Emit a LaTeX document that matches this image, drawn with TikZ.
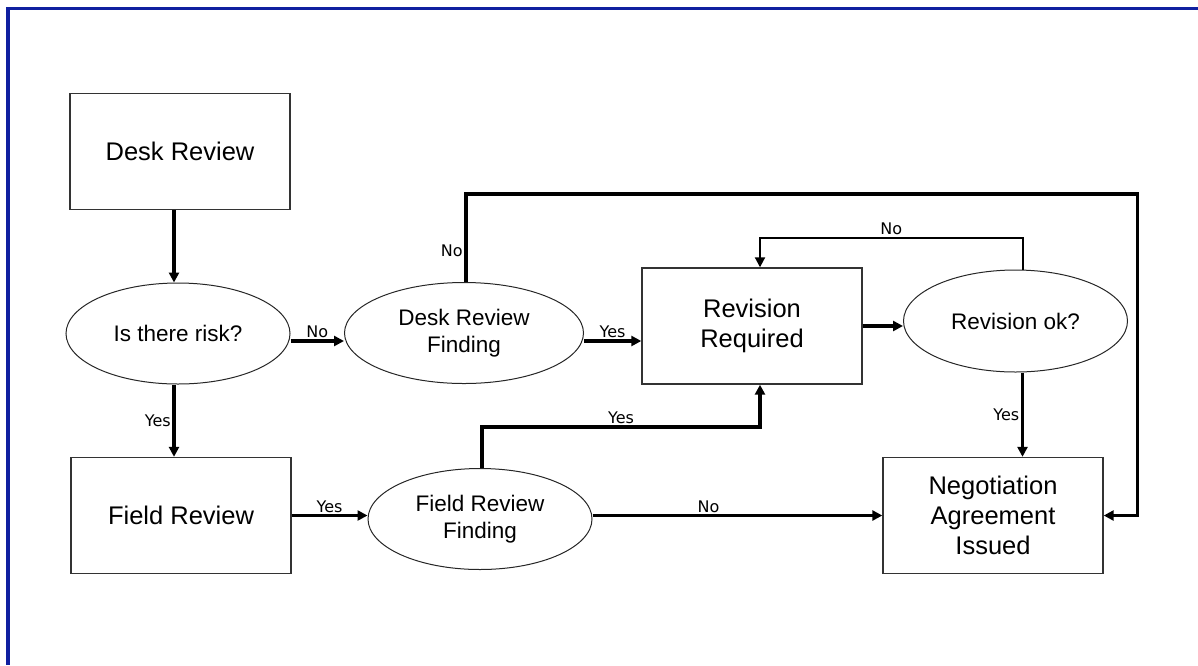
\documentclass[tikz,border=0pt]{standalone}
\usepackage{fontspec}
\setmainfont{Liberation Sans}
\newfontfamily\lblfont{DejaVu Sans}
\usetikzlibrary{shapes.geometric,arrows.meta}
\definecolor{frameblue}{RGB}{16,32,160}
\begin{document}
\begin{tikzpicture}[x=1pt,y=-1pt,
    box/.style={draw=black!80,line width=1.4pt,minimum width=220pt,minimum height=116pt,inner sep=0pt,align=center,font=\fontsize{25.5}{30}\selectfont},
    oval/.style={ellipse,draw=black!85,line width=1pt,minimum width=224pt,minimum height=101pt,inner sep=0pt,align=center,font=\fontsize{22.5}{27}\selectfont},
    flow/.style={line width=3.5pt,-{Triangle[length=10pt,width=10pt]}},
    back/.style={line width=2pt,-{Triangle[length=10pt,width=10pt]}},
    lbl/.style={font=\lblfont\fontsize{16}{18}\selectfont,inner sep=1.5pt}]
            \useasboundingbox (0,0) rectangle (1198,665);
            \draw [frameblue,line width=3.5pt] (1198,8.5) -- (8,8.5) -- (8,665);
            \node [box] (deskrev) at (180,151.5) {Desk Review};
            \node [oval] (risk) at (178,333.5) {Is there risk?};
            \node [box] (fieldrev) at (181,515.5) {Field Review};
            \node [oval,minimum width=239pt] (deskfind) at (464,333) {Desk Review\\Finding};
            \node [oval] (fieldfind) at (480,519) {Field Review\\Finding};
            \node [box] (revreq) at (752,326) {Revision\\Required};
            \node [oval,minimum height=102pt] (revok) at (1015.5,321) {Revision ok?};
            \node [box] (negot) at (993,515.5) {Negotiation\\Agreement\\Issued};
            \draw [flow] ([xshift=-6pt]deskrev.south) coordinate (a1) -- (a1 |- risk.north);
            \draw [flow] ([xshift=-4pt]risk.south) coordinate (a2) -- (a2 |- fieldrev.north) node [lbl,left,midway] {Yes};
            \draw [flow] ([yshift=-7.5pt]risk.east) coordinate (a3) -- (a3 -| deskfind.west) node [lbl,above,midway] {No};
            \draw [flow] ([yshift=-8pt]deskfind.east) coordinate (a4) -- (a4 -| revreq.west) node [lbl,above,midway] {Yes};
            \draw [flow] (revreq.east) -- (revreq.east -| revok.west);
            \draw [flow] ([xshift=7pt]revok.south) coordinate (a5) -- (a5 |- negot.north) node [lbl,left,midway] {Yes};
            \draw [back] ([xshift=7pt]revok.north) -- ++(0,-32) -| ([xshift=8pt]revreq.north) node [lbl,above,pos=0.25] {No};
            \draw [flow] ([xshift=2pt]deskfind.north) -- ++(0,-88) node [lbl,left,pos=0.35] {No} -| ([xshift=34pt]negot.east) -- (negot.east);
            \draw [flow] (fieldrev.east) -- (fieldrev.east -| fieldfind.west) node [lbl,above,midway] {Yes};
            \draw [flow] ([yshift=3.5pt]fieldfind.east) coordinate (a6) -- (a6 -| negot.west) node [lbl,above,pos=0.4] {No};
            \draw [flow] ([xshift=2pt]fieldfind.north) -- ++(0,-41) -| ([xshift=8pt]revreq.south) node [lbl,above,pos=0.25] {Yes};
        \end{tikzpicture}
\end{document}
